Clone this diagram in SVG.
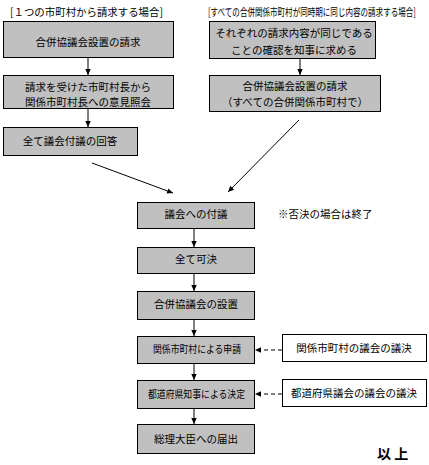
<svg xmlns="http://www.w3.org/2000/svg" width="429" height="465" viewBox="0 0 429 465">
<style>
.box{fill:#c0c0c0;stroke:#000;stroke-width:1}
.wbox{fill:#fff;stroke:#000;stroke-width:1}
text{font-family:"Noto Sans CJK JP","Noto Sans CJK SC",sans-serif;font-size:10.5px;fill:#000}
.c{text-anchor:middle}
.ln{stroke:#000;stroke-width:1;fill:none}
.dl{stroke:#000;stroke-width:1;fill:none;stroke-dasharray:4,3}
</style>
<defs>
<marker id="ah" markerWidth="7" markerHeight="7" refX="6" refY="3.5" orient="auto" markerUnits="userSpaceOnUse">
<path d="M0,0.8 L6,3.5 L0,6.2 Z" fill="#000"/>
</marker>
</defs>
<rect width="429" height="465" fill="#fff"/>
<text x="10" y="16" textLength="153" lengthAdjust="spacingAndGlyphs">[１つの市町村から請求する場合]</text>
<g transform="translate(208,16) scale(0.72,1)"><text x="0" y="0">[すべての合併関係市町村が同時期に同じ内容の請求する場合]</text></g>
<g id="connectors">
<line class="ln" x1="88" y1="57" x2="88" y2="75" marker-end="url(#ah)"/>
<line class="ln" x1="88" y1="108" x2="88" y2="127" marker-end="url(#ah)"/>
<line class="ln" x1="300" y1="58" x2="300" y2="75" marker-end="url(#ah)"/>
<line class="ln" x1="92" y1="163" x2="173" y2="193" marker-end="url(#ah)"/>
<line class="ln" x1="299" y1="120" x2="228" y2="192" marker-end="url(#ah)"/>
<line class="ln" x1="194" y1="228" x2="194" y2="247" marker-end="url(#ah)"/>
<line class="ln" x1="194" y1="273" x2="194" y2="291" marker-end="url(#ah)"/>
<line class="ln" x1="194" y1="319" x2="194" y2="336" marker-end="url(#ah)"/>
<line class="ln" x1="194" y1="363" x2="194" y2="380" marker-end="url(#ah)"/>
<line class="ln" x1="194" y1="408" x2="194" y2="424" marker-end="url(#ah)"/>
<line class="dl" x1="282" y1="350" x2="255" y2="350" marker-end="url(#ah)"/>
<line class="dl" x1="282" y1="394" x2="255" y2="394" marker-end="url(#ah)"/>
</g>
<g id="n1"><rect class="box" x="3.5" y="21.5" width="170" height="36"/><text class="c" x="88" y="46">合併協議会設置の請求</text></g>
<g id="n2"><rect class="box" x="3.5" y="75.5" width="170" height="33"/><text class="c" x="88" y="91">請求を受けた市町村長から</text><text class="c" x="88" y="106">関係市町村長への意見照会</text></g>
<g id="n3"><rect class="box" x="3.5" y="127.5" width="134" height="28"/><text class="c" x="70" y="145">全て議会付議の回答</text></g>
<g id="n4"><rect class="box" x="209.5" y="21.5" width="166" height="37"/><text class="c" x="294" y="37">それぞれの請求内容が同じである</text><text class="c" x="294" y="54">ことの確認を知事に求める</text></g>
<g id="n5"><rect class="box" x="209.5" y="75.5" width="171" height="36"/><text class="c" x="295" y="90">合併協議会設置の請求</text><text class="c" x="295" y="106">（すべての合併関係市町村で）</text></g>
<g id="n6"><rect class="box" x="137.5" y="202.5" width="117" height="26"/><text class="c" x="196" y="218">議会への付議</text></g>
<text x="278" y="218">※否決の場合は終了</text>
<g id="n7"><rect class="box" x="137.5" y="247.5" width="117" height="26"/><text class="c" x="196" y="263">全て可決</text></g>
<g id="n8"><rect class="box" x="137.5" y="291.5" width="117" height="28"/><text class="c" x="196" y="308">合併協議会の設置</text></g>
<g id="n9"><rect class="box" x="137.5" y="336.5" width="117" height="27"/><text x="153" y="353" textLength="88" lengthAdjust="spacingAndGlyphs">関係市町村による申請</text></g>
<g id="n10"><rect class="box" x="137.5" y="380.5" width="117" height="28"/><text x="148" y="398" textLength="97" lengthAdjust="spacingAndGlyphs">都道府県知事による決定</text></g>
<g id="n11"><rect class="box" x="137.5" y="424.5" width="117" height="29"/><text class="c" x="196" y="443">総理大臣への届出</text></g>
<g id="r1"><rect class="wbox" x="282.5" y="334.5" width="144" height="27"/><text class="c" x="354" y="352">関係市町村の議会の議決</text></g>
<g id="r2"><rect class="wbox" x="282.5" y="379.5" width="144" height="27"/><text class="c" x="354" y="397">都道府県議会の議会の議決</text></g>
<text x="377" y="459" style="font-family:'Noto Sans CJK JP',serif;font-size:14px;font-weight:bold">以 上</text>
</svg>
